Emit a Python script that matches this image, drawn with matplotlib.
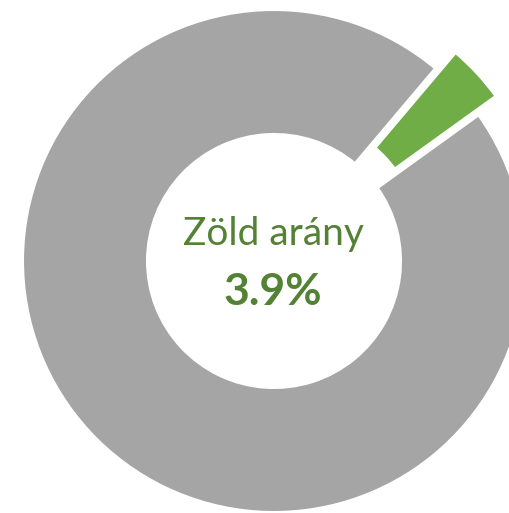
import matplotlib
matplotlib.use("Agg")
import matplotlib.pyplot as plt

# share of green vs the rest
labels = ["Zöld", "Egyéb"]
values = [3.9, 96.1]
colors = ["#70AD47", "#A5A5A5"]
explode = [0.1, 0.0]   # as a fraction of the radius

title_text = "Zöld arány"
value_text = f"{values[0]:.1f}%"

W, H = 509, 513
fig = plt.figure(figsize=(W / 100, H / 100), dpi=100)
ax = fig.add_axes([0, 0, 1, 1])

# work in pixel units so the ring sits where it does in the original
cx, cy = 274, H - 261
outer = 252.4
inner = 125.6

ax.pie(values, colors=colors, explode=[e * outer for e in explode],
       startangle=49.8, counterclock=False, radius=outer, center=(cx, cy),
       wedgeprops=dict(width=outer - inner, edgecolor="white", linewidth=3.5))

ax.text(cx - 1, H - 245, title_text, ha="center", va="baseline",
        fontsize=28, family="Lato", color="#548235")
ax.text(cx - 1, H - 305, value_text, ha="center", va="baseline",
        fontsize=32, family="Lato", fontweight="bold", color="#548235")

ax.set_xlim(0, W)
ax.set_ylim(0, H)
ax.set_aspect("equal")
ax.axis("off")

plt.savefig("out.png", dpi=100)
